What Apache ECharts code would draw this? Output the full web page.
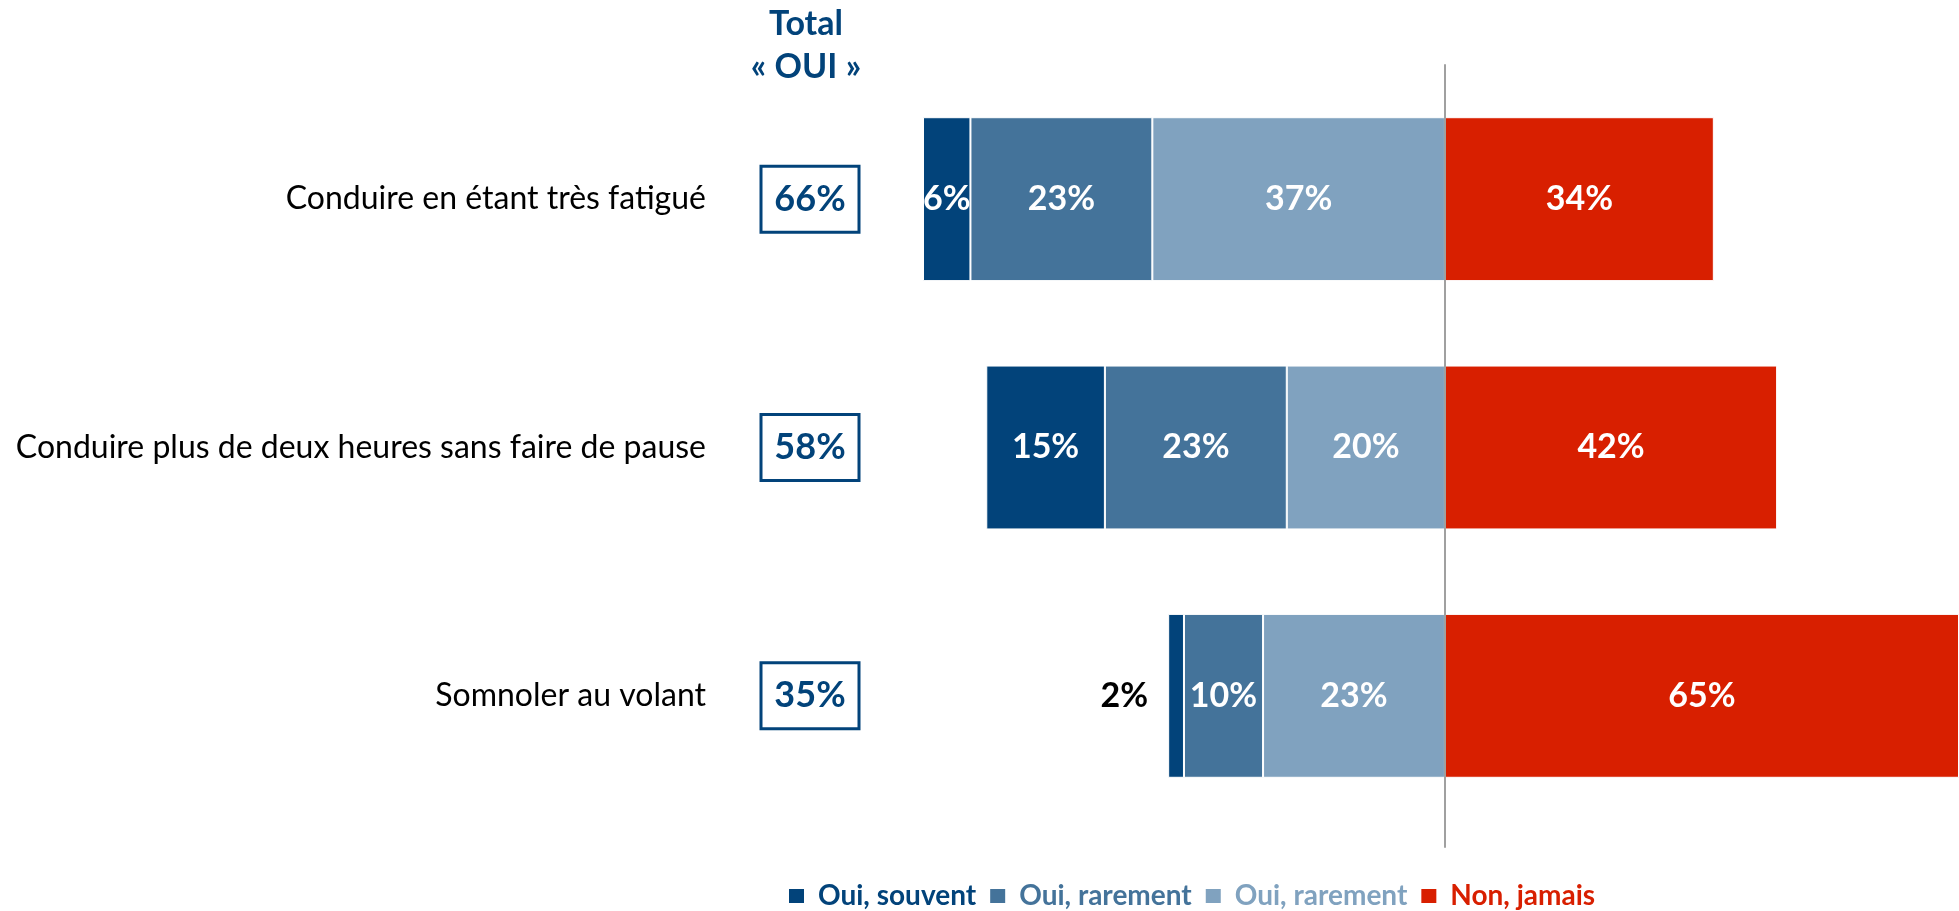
<!DOCTYPE html>
<html>
<head>
<meta charset="utf-8">
<title>Total OUI</title>
<script src="https://cdn.jsdelivr.net/npm/echarts@6/dist/echarts.min.js"></script>
<style>
    html, body { margin: 0; padding: 0; background: #fff; }
    #chart { width: 1959px; height: 911px; }
</style>
</head>
<body>
<div id="chart"></div>
<script>
// données
const categories = ['Conduire en étant très fatigué', 'Conduire plus de deux heures sans faire de pause', 'Somnoler au volant'];
const totalOui = [66, 58, 35];
const ouiSouvent = [6, 15, 2];
const ouiRarement = [23, 23, 10];
const ouiRarement2 = [37, 20, 23];
const nonJamais = [34, 42, 65];

const FONT = 'Lato';
const C_DARK = '#02437A';
const C_MID = '#44739A';
const C_LIGHT = '#80A2BF';
const C_RED = '#D81F00';

// les "Oui" sont à gauche du zéro
function neg(arr) {
    return arr.map(v => -v);
}

function pctLabel(p) {
    return Math.abs(p.value) + '%';
}

const barLabel = {
    show: true,
    color: '#fff',
    fontFamily: FONT,
    fontWeight: 'bold',
    fontSize: 34,
    formatter: pctLabel
};

function initChart() {
    const chart = echarts.init(document.getElementById('chart'));

    // le 2% de "Somnoler" est écrit à côté de la barre
    const souventData = neg(ouiSouvent).map((v, i) => {
        if (Math.abs(v) < 5) {
            return { value: v, label: { position: 'left', color: '#000', distance: 20 } };
        }
        return v;
    });

    const option = {
        animation: false,
        title: {
            text: 'Total\n« OUI »',
            left: 801,
            top: -2,
            textAlign: 'center',
            textStyle: {
                fontFamily: FONT,
                fontWeight: 'bold',
                fontSize: 34,
                lineHeight: 43,
                color: C_DARK
            }
        },
        legend: {
            top: 882,
            left: 787,
            padding: 0,
            itemWidth: 17,
            itemHeight: 16,
            itemGap: 12,
            icon: 'rect',
            formatter: name => name.trim(),
            textStyle: { fontFamily: FONT, fontWeight: 'bold', fontSize: 28, padding: [0, 0, 0, 8] },
            data: [
                { name: 'Oui, souvent', textStyle: { color: C_DARK } },
                { name: 'Oui, rarement', textStyle: { color: C_MID } },
                { name: 'Oui, rarement ', textStyle: { color: C_LIGHT } },
                { name: 'Non, jamais', textStyle: { color: C_RED } }
            ]
        },
        grid: [
            { left: 923, right: 0, top: 75, bottom: 91 },
            { left: 923, right: 0, top: 65, bottom: 64 }
        ],
        xAxis: [
            { type: 'value', gridIndex: 0, min: -66, max: 65, show: false },
            { type: 'value', gridIndex: 1, min: -66, max: 65, show: false }
        ],
        yAxis: [
            {
                type: 'category',
                gridIndex: 0,
                data: categories,
                inverse: true,
                axisLine: { show: false },
                axisTick: { show: false },
                axisLabel: {
                    margin: 217,
                    color: '#000',
                    fontFamily: FONT,
                    fontSize: 32
                }
            },
            {
                type: 'category',
                gridIndex: 0,
                position: 'left',
                data: totalOui.map(v => v + '%'),
                inverse: true,
                axisLine: { show: false },
                axisTick: { show: false },
                axisLabel: {
                    margin: 113,
                    align: 'center',
                    width: 98,
                    height: 66,
                    lineHeight: 66,
                    borderColor: C_DARK,
                    borderWidth: 3,
                    color: C_DARK,
                    fontFamily: FONT,
                    fontWeight: 'bold',
                    fontSize: 36
                }
            },
            {
                // trait vertical du zéro
                type: 'value',
                gridIndex: 1,
                min: 0,
                max: 1,
                z: 10,
                axisLine: { show: true, onZero: true, lineStyle: { color: '#A0A0A0', width: 2 } },
                axisTick: { show: false },
                axisLabel: { show: false },
                splitLine: { show: false }
            }
        ],
        series: [
            {
                name: 'Oui, rarement ',
                type: 'bar',
                stack: 'total',
                barCategoryGap: '34%',
                data: neg(ouiRarement2),
                itemStyle: { color: C_LIGHT, borderColor: '#fff', borderWidth: 1 },
                label: barLabel
            },
            {
                name: 'Oui, rarement',
                type: 'bar',
                stack: 'total',
                data: neg(ouiRarement),
                itemStyle: { color: C_MID, borderColor: '#fff', borderWidth: 1 },
                label: barLabel
            },
            {
                name: 'Oui, souvent',
                type: 'bar',
                stack: 'total',
                data: souventData,
                itemStyle: { color: C_DARK, borderColor: '#fff', borderWidth: 1 },
                label: barLabel
            },
            {
                name: 'Non, jamais',
                type: 'bar',
                stack: 'total',
                data: nonJamais,
                itemStyle: { color: C_RED, borderColor: '#fff', borderWidth: 1 },
                label: barLabel
            }
        ]
    };

    chart.setOption(option);
    window.addEventListener('resize', () => chart.resize());
}

document.addEventListener('DOMContentLoaded', initChart);
</script>
</body>
</html>
